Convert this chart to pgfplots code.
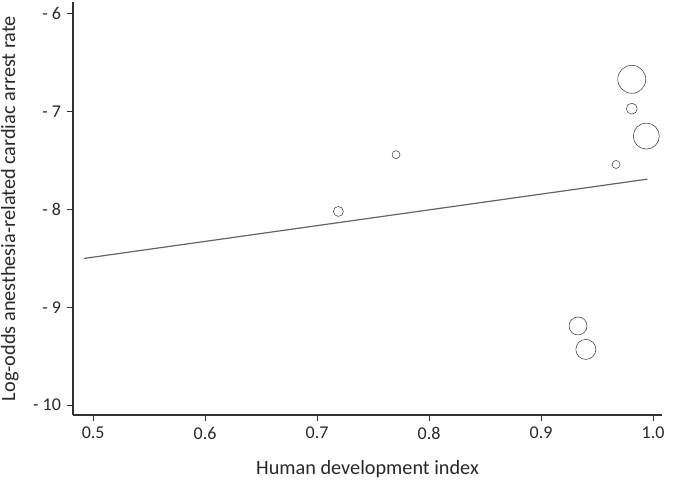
\documentclass[border=0pt]{standalone}
\usepackage{pgfplots}
\pgfplotsset{compat=1.18}
\usepackage{fontspec}
\setmainfont{Carlito}
\definecolor{txt}{RGB}{40,40,40}
\definecolor{ax}{RGB}{50,50,50}
\definecolor{ln}{RGB}{100,100,100}
\definecolor{mk}{RGB}{60,60,60}
\begin{document}
\begin{tikzpicture}
\begin{axis}[
  at={(0,0)}, anchor=south west,
  scale only axis,
  width=441.75pt, height=309.75pt,
  xmin=0.482, xmax=1.008,
  ymin=-10.1, ymax=-5.88,
  axis x line*=bottom, axis y line*=left,
  axis line style={ax, line width=0.9pt, -},
  tick align=outside,
  major tick length=4.5pt,
  tick style={ax, line width=0.8pt},
  xtick={0.5,0.6,0.7,0.8,0.9,1.0},
  xticklabels={0.5,0.6,0.7,0.8,0.9,1.0},
  ytick={-10,-9,-8,-7,-6},
  yticklabels={- 10,- 9,- 8,- 7,- 6},
  ticklabel style={font=\fontsize{13.5}{15}\selectfont, text=txt},
  xticklabel style={yshift=-1pt},
  yticklabel style={xshift=-1pt},
  xlabel={Human development index},
  ylabel={Log-odds anesthesia-related cardiac arrest rate},
  label style={font=\fontsize{15.2}{17}\selectfont, text=txt},
  xlabel style={yshift=-9pt},
  ylabel style={yshift=4pt},
  clip=false,
]
\addplot[ln, line width=0.9pt, no marks] coordinates {(0.492,-8.50) (0.995,-7.69)};
\addplot[
  scatter, only marks, mark=o,
  scatter/use mapped color={draw=mk},
  point meta=\thisrow{r},
  visualization depends on={\thisrow{r}\as\perpointmarksize},
  scatter/@pre marker code/.append style={/tikz/mark size=\perpointmarksize pt, /tikz/line width=0.8pt},
] table {
x y r
0.7705 -7.44 3.0
0.719 -8.02 3.75
0.967 -7.54 3.0
0.981 -6.97 4.1
0.981 -6.67 10.5
0.994 -7.25 9.75
0.933 -9.19 6.75
0.940 -9.43 7.5
};
\end{axis}
\pgfresetboundingbox
\path (-54.75pt,-48.75pt) rectangle (451.5pt,311.25pt);
\end{tikzpicture}
\end{document}
